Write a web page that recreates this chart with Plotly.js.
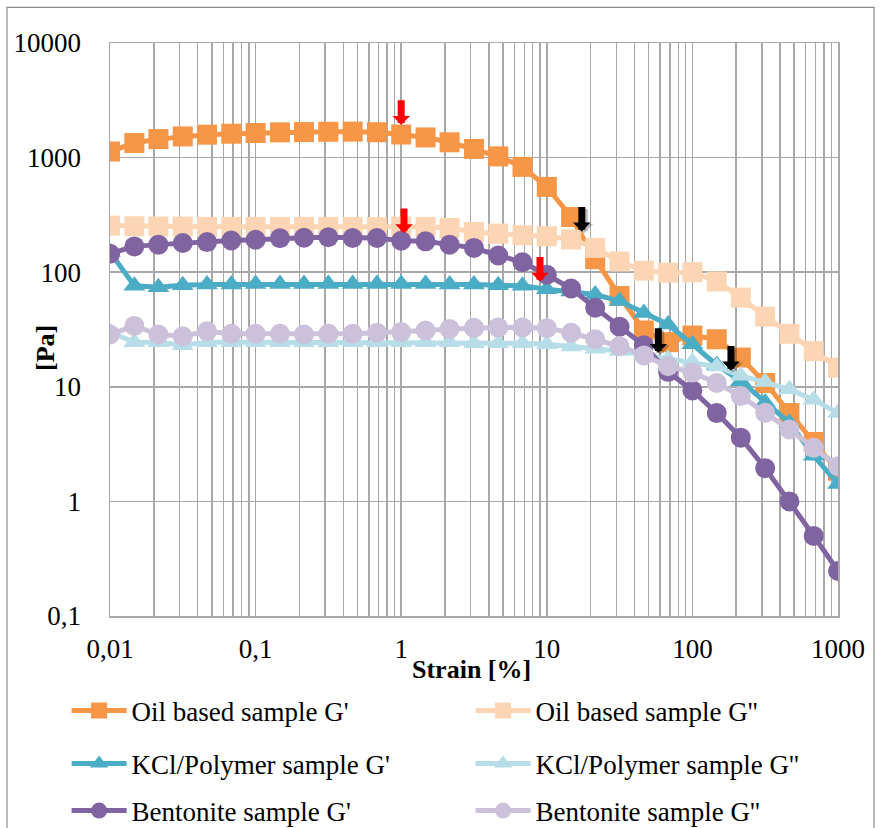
<!DOCTYPE html>
<html>
<head>
<meta charset="utf-8">
<script src="https://cdn.plot.ly/plotly-3.0.1.min.js"></script>
<style>html,body{margin:0;padding:0;background:#fff;}#chart{width:880px;height:828px;}</style>
</head>
<body>
<div id="chart"></div>
<script>
// Strain [%] values (6 points per decade)
var strain = [0.01, 0.0147, 0.0215, 0.0316, 0.0464, 0.0681, 0.1, 0.147, 0.215, 0.316, 0.464, 0.681,
  1, 1.47, 2.15, 3.16, 4.64, 6.81, 10, 14.7, 21.5, 31.6, 46.4, 68.1, 100, 147, 215, 316, 464, 681, 1000];

var oilG1 = [1130, 1340, 1450, 1530, 1585, 1615, 1640, 1660, 1670, 1680, 1685, 1665,
  1590, 1500, 1360, 1190, 1025, 830, 555, 303, 130, 62, 31, 24.5, 28, 26, 18, 10.8, 5.9, 3.3, 1.85];
var oilG2 = [255, 252, 251, 250, 249, 249, 249, 249, 249, 249, 249, 248,
  250, 249, 243, 224, 217, 210, 206, 193, 163, 124, 103, 99, 100, 83, 60, 41, 29, 20.5, 14.7];
var kclG1 = [150, 76, 74, 77, 78, 78, 79, 79, 79, 79, 79, 79,
  79, 79, 78, 78, 77, 76, 71, 68, 64, 56, 44, 35, 23.5, 15.5, 11.2, 7.3, 4.85, 2.5, 1.42];
var kclG2 = [30, 24.5, 24.5, 23, 24.5, 24.5, 24.5, 24.5, 24.5, 24.5, 24.5, 24.5,
  24.5, 24.5, 24.5, 24, 24, 24, 23.5, 22.5, 21.5, 20.5, 19, 17.5, 16.5, 15, 12.5, 11, 9.5, 7.7, 5.9];
var benG1 = [145, 168, 174, 180, 183, 189, 192, 198, 200, 202, 199, 199,
  188, 186, 174, 163, 140, 122, 95, 72, 49, 33.5, 23, 13.5, 9.3, 5.9, 3.6, 1.95, 1.0, 0.5, 0.247];
var benG2 = [28.6, 34, 28.6, 27.6, 30.5, 29, 29, 29, 28.6, 29, 29, 29.6,
  30, 31, 32, 32.7, 33, 33, 32.5, 29.6, 26, 22.6, 18.8, 15.1, 13.3, 10.8, 8.3, 5.93, 4.24, 2.94, 2.03];

var seriesNames = ["Oil based sample G'", "Oil based sample G''", "KCl/Polymer sample G'",
  "KCl/Polymer sample G''", "Bentonite sample G'", "Bentonite sample G''"];

// Tick labels (comma decimal)
var xTickVals = [0.01, 0.1, 1, 10, 100, 1000];
var xTickText = ["0,01", "0,1", "1", "10", "100", "1000"];
var yTickVals = [0.1, 1, 10, 100, 1000, 10000];
var yTickText = ["0,1", "1", "10", "100", "1000", "10000"];
var xTitle = "Strain [%]";
var yTitle = "[Pa]";

// Arrow markers (tip positions: strain, modulus)
var arrowX = [1, 1.045, 8.98, 17.4, 58.3, 184];
var arrowY = [1936, 220, 83, 227, 19.8, 13.9];
var arrowColors = ["#FF0000", "#FF0000", "#FF0000", "#000000", "#000000", "#000000"];

var colors = ["#F79646", "#FCD5B5", "#4BACC6", "#B7DEE8", "#8064A2", "#CCC1DA"];
var symbols = ["square", "square", "triangle-up", "triangle-up", "circle", "circle"];
var sizes = [20, 20, 19, 19, 20, 20];
var dataSets = [oilG1, oilG2, kclG1, kclG2, benG1, benG2];
var legendIds = ["legend", "legend", "legend2", "legend2", "legend3", "legend3"];

var traces = dataSets.map(function (ys, i) {
  return {
    x: strain, y: ys, type: "scatter", mode: "lines+markers", name: seriesNames[i],
    legend: legendIds[i],
    line: {color: colors[i], width: 5},
    marker: {color: colors[i], symbol: symbols[i], size: sizes[i]}
  };
});

// minor gridlines 2..9 per decade
var minorVals = [];
for (var k = -2; k < 3; k++) {
  for (var d = 2; d <= 9; d++) minorVals.push(d * Math.pow(10, k));
}

var serif = "Liberation Serif";
var gridC = "#a8a8a8";

var annotations = [];
arrowX.forEach(function (xv, i) {
  if (arrowColors[i] === "#000000") {
    annotations.push({
      x: Math.log10(xv), y: Math.log10(arrowY[i]), xref: "x", yref: "y",
      showarrow: true, text: "", axref: "pixel", ayref: "pixel", ax: 0, ay: -26,
      xshift: 2, yshift: -2,
      arrowhead: 1, arrowwidth: 8, arrowsize: 0.4, arrowcolor: "rgba(0,0,0,0.25)", standoff: 0
    });
  }
  annotations.push({
    x: Math.log10(xv), y: Math.log10(arrowY[i]), xref: "x", yref: "y",
    showarrow: true, text: "", axref: "pixel", ayref: "pixel", ax: 0, ay: -26,
    arrowhead: 1, arrowwidth: 7, arrowsize: 0.42, arrowcolor: arrowColors[i], standoff: 0
  });
});
// axis titles placed as text
annotations.push({
  text: "<b>" + yTitle + "</b>", xref: "paper", yref: "paper", x: -0.0893, y: 0.4677,
  xanchor: "center", yanchor: "middle", textangle: -90, showarrow: false,
  font: {family: serif, size: 26, color: "#000"}
});
annotations.push({
  text: "<b>" + xTitle + "</b>", xref: "paper", yref: "paper", x: 0.4959, y: -0.0942,
  xanchor: "center", yanchor: "middle", showarrow: false,
  font: {family: serif, size: 26, color: "#000"}
});

function legendCfg(yp) {
  return {
    orientation: "h", xref: "paper", yref: "paper",
    x: -0.0596, xanchor: "left", y: yp, yanchor: "middle",
    entrywidth: 334, entrywidthmode: "pixels", itemwidth: 55, bgcolor: "rgba(0,0,0,0)",
    font: {family: serif, size: 27, color: "#000"}
  };
}

var layout = {
  width: 880, height: 828,
  margin: {l: 110, r: 42, t: 43, b: 212, autoexpand: false},
  paper_bgcolor: "#fff", plot_bgcolor: "#fff",
  showlegend: true,
  xaxis: {
    type: "log", range: [-2, 3], automargin: false,
    tickmode: "array", tickvals: xTickVals, ticktext: xTickText,
    ticks: "", ticklabelstandoff: 8,
    showgrid: true, gridcolor: gridC, gridwidth: 1.5,
    minor: {tickmode: "array", tickvals: minorVals, showgrid: true, gridcolor: gridC, gridwidth: 1.5},
    showline: true, linecolor: gridC, linewidth: 1.5, mirror: true, zeroline: false,
    tickfont: {family: serif, size: 27, color: "#000"}
  },
  yaxis: {
    type: "log", range: [-1, 4], automargin: false,
    tickmode: "array", tickvals: yTickVals, ticktext: yTickText,
    ticks: "", ticklabelstandoff: 22,
    showgrid: true, gridcolor: gridC, gridwidth: 1.5,
    showline: true, linecolor: gridC, linewidth: 1.5, mirror: true, zeroline: false,
    tickfont: {family: serif, size: 27, color: "#000"}
  },
  legend: legendCfg(-0.1658),
  legend2: legendCfg(-0.2583),
  legend3: legendCfg(-0.3403),
  annotations: annotations,
  shapes: [{
    type: "rect", xref: "paper", yref: "paper",
    x0: -0.1415, x1: 1.0495, y0: -0.40, y1: 1.0623,
    line: {color: "#8c8c8c", width: 1.2}, fillcolor: "rgba(0,0,0,0)", layer: "below"
  }]
};

Plotly.newPlot("chart", traces, layout, {displayModeBar: false, staticPlot: true});
</script>
</body>
</html>
